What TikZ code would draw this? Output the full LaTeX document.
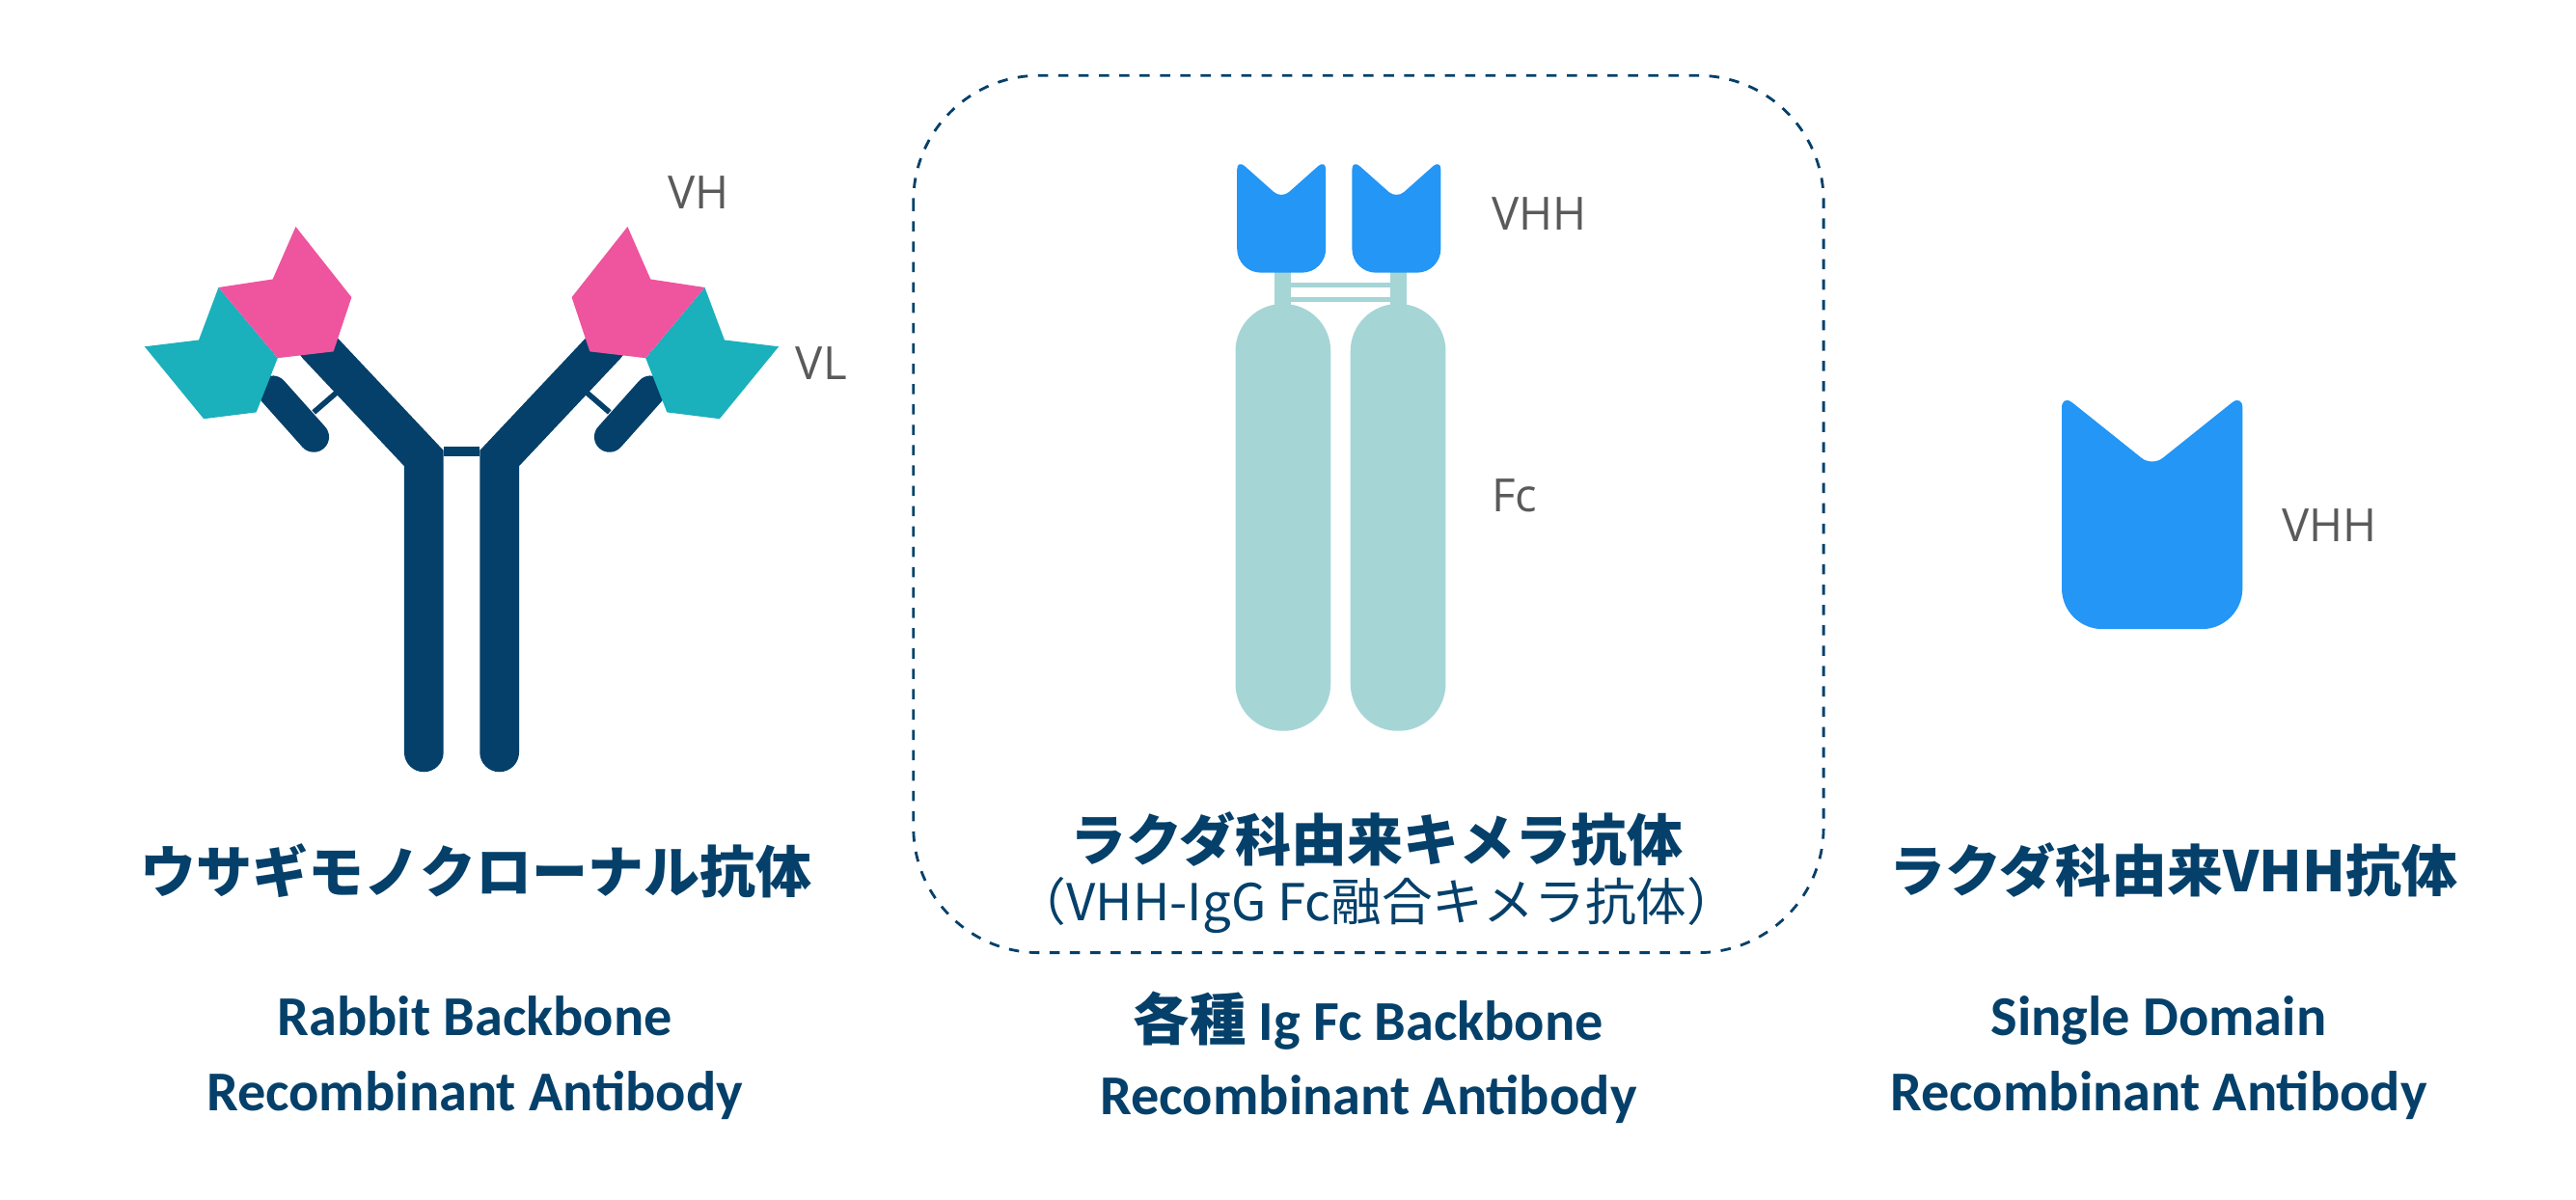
\documentclass[tikz,border=0pt]{standalone}
\usepackage{fontspec}
\usepackage{tikz}
\usetikzlibrary{positioning}
\newfontfamily\jpfont{Noto Sans CJK JP}
\newfontfamily\enfont{Carlito}
\newfontfamily\lblfont{Open Sans}
\definecolor{navy}{RGB}{4,64,106}
\definecolor{vhpink}{RGB}{238,85,158}
\definecolor{vlteal}{RGB}{26,176,188}
\definecolor{vhhblue}{RGB}{35,150,246}
\definecolor{fcteal}{RGB}{166,213,214}
\definecolor{lblgray}{RGB}{90,90,90}
\tikzstyle{title_jp} =
  [ font=\jpfont\bfseries\fontsize{16.5}{20}\selectfont
  , text=navy
  , inner sep=0pt
  ]
\tikzstyle{sub_jp} =
  [ font=\jpfont\fontsize{15}{18}\selectfont
  , text=navy
  , inner sep=0pt
  ]
\tikzstyle{title_en} =
  [ font=\enfont\bfseries\fontsize{16.6}{20}\selectfont
  , text=navy
  , inner sep=0pt
  ]
\tikzstyle{domain_label} =
  [ font=\lblfont\fontsize{13.5}{16}\selectfont
  , text=lblgray
  , inner sep=0pt
  ]
\tikzstyle{heavy} = [draw=navy, line width=11.6pt, line cap=round]
\tikzstyle{light} = [draw=navy, line width=9pt, line cap=round]
\tikzstyle{bond}  = [draw=navy, line width=1.6pt]
\tikzstyle{vhh}   = [fill=vhhblue]
\tikzstyle{fc}    = [fill=fcteal]

\begin{document}
\begin{tikzpicture}[x=0.01703cm, y=-0.01703cm]
    \useasboundingbox (0,0) rectangle (1568,730);

    % rabbit IgG
    \begin{scope}
      \foreach \s in {1,-1} {
        \begin{scope}[shift={(281,0)}, xscale=\s, shift={(-281,0)}]
          \draw[heavy] (258,458) -- (258,279) -- (193,210);
          \draw[light] (166,238) -- (191,266);
          \draw[bond]  (191,251) -- (206,238);
          \fill[vlteal] (88,211) -- (121,207) -- (133,175) -- (169,218) -- (156,251) -- (124,255) -- cycle;
          \fill[vhpink] (133,175) -- (166,170) -- (180,138) -- (214,181) -- (203,214) -- (169,218) -- cycle;
        \end{scope}
      }
      \fill[white] (270,268) rectangle (292,272);
      \fill[white] (270,278) rectangle (292,282);
      \fill[navy] (270,272) rectangle (292,278);
    \end{scope}
    \node[domain_label] (rabbit_vh) at (425,117) {VH};
    \node[domain_label] (rabbit_vl) at (500,221) {VL};

    % VHH-Fc chimera
    \draw[navy, dashed, line width=0.8pt, rounded corners=1.3cm] (556,46) rectangle (1110,580);
    \foreach \x in {752,822} {
      \fill[fc] (\x+24,158) rectangle (\x+34,192);
      \fill[fc, rounded corners=0.49cm] (\x,185) rectangle (\x+58,445);
    }
    \fill[fc] (786,172) rectangle (846,175);
    \fill[fc] (786,181) rectangle (846,184);
    \foreach \x in {753,823} {
      \fill[vhh] (\x,97) [rounded corners=3pt] -- (\x+27,121) -- (\x+54,97) [rounded corners=7pt] -- (\x+54,166) -- (\x,166) [rounded corners=3pt] -- cycle;
    }
    \node[domain_label] (chimera_vhh) at (937,130) {VHH};
    \node[domain_label] (chimera_fc)  at (922,302) {Fc};

    % single domain
    \fill[vhh] (1255,240) [rounded corners=4pt] -- (1310,284) -- (1365,240) [rounded corners=12pt] -- (1365,383) -- (1255,383) [rounded corners=4pt] -- cycle;
    \node[domain_label] (single_vhh) at (1418,320) {VHH};

    \node[title_jp] (rabbit_jp)  at (290,530) {ウサギモノクローナル抗体};
    \node[title_jp] (chimera_jp) at (838,511) {ラクダ科由来キメラ抗体};
    \node[sub_jp]   (chimera_sub) at (838,551) {（VHH-IgG Fc融合キメラ抗体）};
    \node[title_jp] (single_jp)  at (1323,530) {ラクダ科由来VHH抗体};

    \node[title_en, align=center] (rabbit_en)  at (289,644) {Rabbit Backbone\\[2pt]Recombinant Antibody};
    \node[title_en, align=center] (chimera_en) at (833,644) {{\jpfont\bfseries 各種} Ig Fc Backbone\\[2pt]Recombinant Antibody};
    \node[title_en, align=center] (single_en)  at (1314,644) {Single Domain\\[2pt]Recombinant Antibody};
  \end{tikzpicture}
\end{document}
